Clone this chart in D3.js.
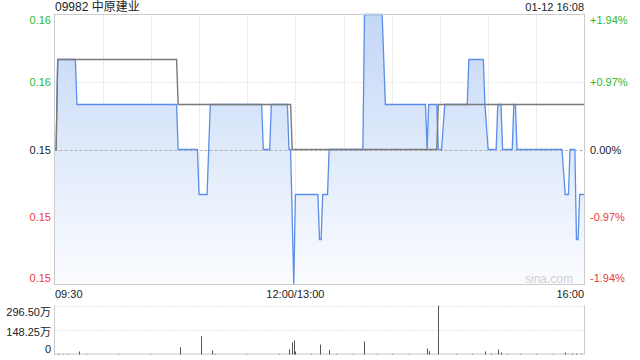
<!DOCTYPE html>
<html><head><meta charset="utf-8">
<script src="https://cdn.jsdelivr.net/npm/d3@7/dist/d3.min.js"></script>
<style>
html,body{margin:0;padding:0;background:#fff;}
svg{display:block;font-family:Arial,"Liberation Sans","Noto Sans CJK SC",sans-serif;}
</style></head>
<body><svg id="c" width="640" height="360"></svg>
<script>
// ---- data ----
const title = "09982 中原建业";
const stamp = "01-12 16:08";
const prevClose = 0.155;
// price vertices (minute index from 09:30, price)
const priceIdx = [0,1,2,13,14,76,77,89,90,95,97,129,130,134,135,145,146,147,149,150,164,165,166,167,170,171,192,193,204,206,231,232,233,238,239,241,243,257,258,267,268,270,275,276,278,279,285,286,287,288,316,318,320,321,324,325,326,327,330];
const prices   = [.155,.155,.157,.157,.156,.156,.155,.155,.154,.154,.156,.156,.155,.155,.156,.156,.155,.155,.152,.154,.154,.153,.153,.154,.154,.155,.155,.158,.158,.156,.156,.155,.156,.156,.155,.155,.156,.156,.157,.157,.156,.155,.155,.156,.156,.155,.155,.156,.156,.155,.155,.154,.154,.155,.155,.153,.153,.154,.154];
// average price vertices
const avgIdx    = [0,1,2,76,77,147,148,238,239,330];
const avgPrices = [.155,.155,.157,.157,.156,.156,.155,.155,.156,.156];
// volume (万)
const volIdx  = [2,5,8,15,20,40,60,78,91,98,100,120,140,146,148,149,150,160,165,171,175,185,193,200,210,220,232,233,239,250,260,268,272,276,278,282,290,300,310,318,322,325,328];
const volumes = [4,3,3,18,2,2,2,44,111,24,3,2,3,32,74,85,18,4,60,28,3,2,79,2,3,2,36,20,296.5,3,4,18,5,30,12,4,3,3,2,12,5,6,3];
const yTicks = [0.158,0.1565,0.155,0.1535,0.152];
const yTickLabels = ["0.16","0.16","0.15","0.15","0.15"];
const pctLabels = ["+1.94%","+0.97%","0.00%","-0.97%","-1.94%"];
const xTickIdx = [0,150,330];
const xTickLabels = ["09:30","12:00/13:00","16:00"];
const volTicks = [296.5,148.25,0];
const volTickLabels = ["296.50万","148.25万","0"];

// ---- layout ----
const L=54.5, R=584.5, T=14.5, B=284.5, VT=305.5, VB=354.5;
const svg = d3.select("#c");
const x = d3.scaleLinear().domain([0,330]).range([L,R]);
const y = d3.scaleLinear().domain([0.152,0.158]).range([B,T]);
const yv = d3.scaleLinear().domain([0,296.5]).range([VB,VT]);
const GREEN="#2eb82e", RED="#f03a3a", GRAY="#ccc";

const defs = svg.append("defs");
const g = defs.append("linearGradient").attr("id","fill").attr("gradientUnits","userSpaceOnUse")
  .attr("x1",0).attr("y1",T).attr("x2",0).attr("y2",B);
g.append("stop").attr("offset","0%").attr("stop-color","#c3d7f6");
g.append("stop").attr("offset","100%").attr("stop-color","#fbfcff");

// grid: vertical every 30 minutes
const vgrid = d3.range(30,330,30);
svg.append("g").selectAll("line").data(vgrid).join("line")
  .attr("x1",d=>Math.round(x(d))+0.5).attr("x2",d=>Math.round(x(d))+0.5)
  .attr("y1",T).attr("y2",B).attr("stroke","#cfcfcf").attr("stroke-dasharray","1,2");
// horizontal grid
svg.append("g").selectAll("line").data([0.1565,0.1535]).join("line")
  .attr("x1",L).attr("x2",R).attr("y1",d=>Math.round(y(d))+0.5).attr("y2",d=>Math.round(y(d))+0.5)
  .attr("stroke","#cfcfcf").attr("stroke-dasharray","1,2");

// area + line
const pts = priceIdx.map((d,i)=>[d,prices[i]]);
svg.append("path").datum(pts)
  .attr("d",d3.area().x(d=>x(d[0])).y0(B).y1(d=>y(d[1])))
  .attr("fill","url(#fill)");
// base line (prev close)
svg.append("line").attr("x1",L).attr("x2",R).attr("y1",Math.round(y(prevClose))+0.5).attr("y2",Math.round(y(prevClose))+0.5)
  .attr("stroke","#b0b0b0").attr("stroke-dasharray","3,2");
svg.append("path").datum(pts)
  .attr("d",d3.line().x(d=>x(d[0])).y(d=>y(d[1])))
  .attr("fill","none").attr("stroke","#5a8eea").attr("stroke-width",1.3);
const apts = avgIdx.map((d,i)=>[d,avgPrices[i]]);
svg.append("path").datum(apts)
  .attr("d",d3.line().x(d=>x(d[0])).y(d=>y(d[1])))
  .attr("fill","none").attr("stroke","#7a7a7a").attr("stroke-width",1.4);

// border
svg.append("rect").attr("x",L).attr("y",T).attr("width",R-L).attr("height",B-T)
  .attr("fill","none").attr("stroke",GRAY);

// watermark
svg.append("text").attr("x",573).attr("y",279).attr("text-anchor","end").attr("dominant-baseline","central")
  .attr("font-size",12).attr("fill","#cfcfcf").text("sina.com");

// title
svg.append("text").attr("x",55).attr("y",11).attr("font-size",12).attr("fill","#222").text(title);
svg.append("text").attr("x",584).attr("y",11).attr("font-size",11).attr("text-anchor","end").attr("fill","#222").text(stamp);

// y labels
const labelY = [20,82,149.5,217,277.5];
const colorFor = i => i<2?GREEN:(i===2?"#222":RED);
svg.append("g").selectAll("text").data(yTickLabels).join("text")
  .attr("x",51).attr("y",(d,i)=>labelY[i]).attr("text-anchor","end").attr("dominant-baseline","central")
  .attr("font-size",11).attr("fill",(d,i)=>colorFor(i)).text(d=>d);
svg.append("g").selectAll("text").data(pctLabels).join("text")
  .attr("x",590).attr("y",(d,i)=>labelY[i]).attr("text-anchor","start").attr("dominant-baseline","central")
  .attr("font-size",11).attr("fill",(d,i)=>colorFor(i)).text(d=>d);

// x labels
const anchors=["start","middle","end"];
svg.append("g").selectAll("text").data(xTickLabels).join("text")
  .attr("x",(d,i)=>i===0?55:(i===2?584:x(xTickIdx[i]))).attr("y",293.5)
  .attr("text-anchor",(d,i)=>anchors[i]).attr("dominant-baseline","central")
  .attr("font-size",11).attr("fill","#222").text(d=>d);

// volume panel
svg.append("g").selectAll("line").data([296.5,148.25]).join("line")
  .attr("x1",L).attr("x2",R).attr("y1",d=>Math.round(yv(d))+0.5).attr("y2",d=>Math.round(yv(d))+0.5)
  .attr("stroke","#cfcfcf").attr("stroke-dasharray","1,2");
svg.append("line").attr("x1",L).attr("x2",L).attr("y1",VT).attr("y2",VB).attr("stroke",GRAY);
svg.append("line").attr("x1",R).attr("x2",R).attr("y1",VT).attr("y2",VB).attr("stroke",GRAY);
svg.append("line").attr("x1",L).attr("x2",R).attr("y1",VB-0.5).attr("y2",VB-0.5).attr("stroke","#888").attr("stroke-dasharray","1,1");
svg.append("g").selectAll("line").data(volIdx.map((d,i)=>[d,volumes[i]])).join("line")
  .attr("x1",d=>Math.round(x(d[0]))+0.5).attr("x2",d=>Math.round(x(d[0]))+0.5)
  .attr("y1",VB).attr("y2",d=>yv(d[1])).attr("stroke","#555").attr("stroke-width",1);
const volLabelY=[311.5,331.5,348.5];
svg.append("g").selectAll("text").data(volTickLabels).join("text")
  .attr("x",51).attr("y",(d,i)=>volLabelY[i]).attr("text-anchor","end").attr("dominant-baseline","central")
  .attr("font-size",11).attr("fill","#222").text(d=>d);
</script></body></html>
